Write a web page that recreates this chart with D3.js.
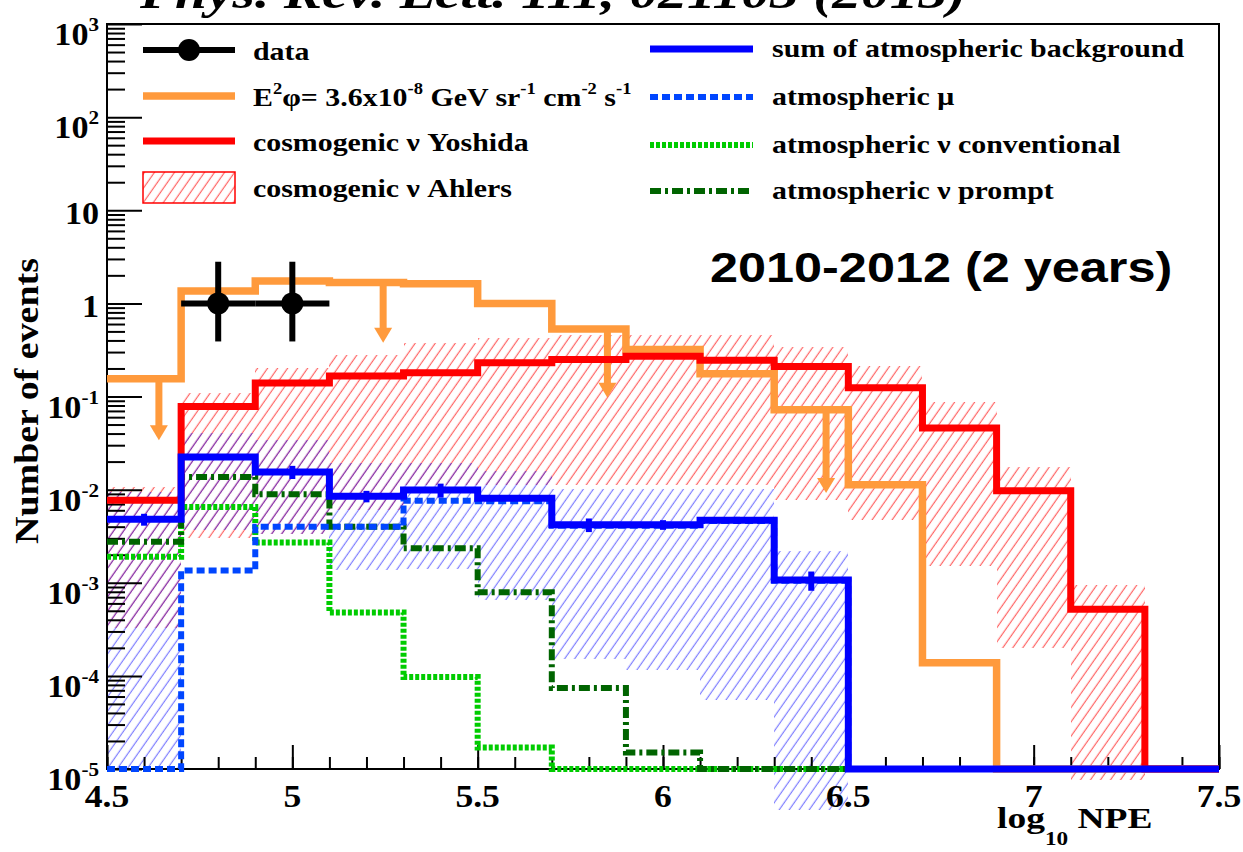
<!DOCTYPE html>
<html>
<head>
<meta charset="utf-8">
<script src="https://cdn.jsdelivr.net/npm/d3@7"></script>
<style>
  html, body { margin: 0; padding: 0; background: #fff; }
  svg { display: block; }
</style>
</head>
<body>
<svg id="chart" width="1243" height="852"></svg>
<script>
// ---- histogram binning (log10 NPE) ----
const binEdges = [4.5, 4.7, 4.9, 5.1, 5.3, 5.5, 5.7, 5.9, 6.1, 6.3, 6.5, 6.7, 6.9, 7.1, 7.3, 7.5];

// E^2 phi = 3.6e-8 GeV sr^-1 cm^-2 s^-1 signal expectation
const fluxE2Phi = [0.155, 1.36, 1.74, 1.68, 1.62, 1.0, 0.53, 0.32, 0.175, 0.072, 0.0113, 1.38e-4, 0, 0, 0];
// upper-limit arrows on the E^2 phi curve
const limitArrowX   = [4.64, 5.245, 5.85, 6.44];
const limitArrowTip = [0.034, 0.377, 0.097, 0.0092];

// cosmogenic nu (Yoshida)
const yoshida = [0.0077, 0.078, 0.14, 0.166, 0.18, 0.23, 0.25, 0.27, 0.245, 0.21, 0.124, 0.046, 0.0097, 5.2e-4, 0];
// cosmogenic nu (Ahlers) band
const ahlersLo = [3.3e-4, 0.003, 0.0033, 0.006, 0.0112, 0.0112, 0.0112, 0.0112, 0.0112, 0.0078, 0.0047, 0.0015, 2.0e-4, 7.6e-6, null];
const ahlersHi = [0.0107, 0.11, 0.2, 0.28, 0.38, 0.43, 0.46, 0.46, 0.46, 0.34, 0.21, 0.087, 0.0175, 9.5e-4, null];

// sum of atmospheric background, its error bars and uncertainty band
const atmSum    = [0.0048, 0.0224, 0.0155, 0.0085, 0.0099, 0.0081, 0.0042, 0.0042, 0.0047, 0.00107, 0, 0, 0, 0, 0];
const atmSumErr = [0.0007, 0.001, 0.0025, 0.0012, 0.0017, 0.0005, 0.0007, 0.0005, 0.0004, 0.00025, 0, 0, 0, 0, 0];
const atmSumLo  = [1e-5, 0.0037, 0.0033, 0.00137, 0.0014, 6.5e-4, 1.5e-4, 1.15e-4, 5.5e-5, 3.6e-6, null, null, null, null, null];
const atmSumHi  = [0.0095, 0.041, 0.034, 0.0194, 0.0194, 0.016, 0.0101, 0.0101, 0.0101, 0.0022, null, null, null, null, null];

// background components
const atmMu       = [0, 0.00135, 0.004, 0.004, 0.0076, 0.0075, 0.0041, 0.0041, 0.0046, 0.00105, 0, 0, 0, 0, 0];
const atmNuConv   = [0.0019, 0.0065, 0.0027, 4.8e-4, 9.7e-5, 1.7e-5, 0, 0, 0, 0, 0, 0, 0, 0, 0];
const atmNuPrompt = [0.00275, 0.0137, 0.0089, 0.004, 0.00235, 7.9e-4, 7.4e-5, 1.5e-5, 0, 0, 0, 0, 0, 0, 0];

// observed events
const dataX    = [4.8, 5.0];
const dataXErr = [0.1, 0.1];
const dataY    = [1, 1];
const dataYLo  = [0.39, 0.39];
const dataYHi  = [2.8, 2.8];

// axes
const xMajorTicks  = [4.5, 5, 5.5, 6, 6.5, 7, 7.5];
const xTickLabels  = ["4.5", "5", "5.5", "6", "6.5", "7", "7.5"];
const yDecades     = [-5, -4, -3, -2, -1, 0, 1, 2, 3];

const journalRef = "Phys. Rev. Lett. 111, 021103 (2013)";
const periodLabel = "2010-2012 (2 years)";
const yTitle = "Number of events";

const legendLeft = [
  { key: "data",    label: "data" },
  { key: "flux",    label: "E^{2}φ= 3.6x10^{-8} GeV sr^{-1} cm^{-2} s^{-1}" },
  { key: "yoshida", label: "cosmogenic ν Yoshida" },
  { key: "ahlers",  label: "cosmogenic ν Ahlers" }
];
const legendRight = [
  { key: "sum",    label: "sum of atmospheric background" },
  { key: "mu",     label: "atmospheric μ" },
  { key: "conv",   label: "atmospheric ν conventional" },
  { key: "prompt", label: "atmospheric ν prompt" }
];

// ---- styling ----
const SERIF = "'Liberation Serif','Times New Roman',serif";
const SANS  = "'Liberation Sans',Arial,sans-serif";
const C = {
  flux: "#ff9a3c", yoshida: "#ff0000", sum: "#0000ff", mu: "#0046ff",
  conv: "#00cc00", prompt: "#006400"
};
const STYLE = {
  flux:    { color: C.flux,    width: 7.5, dash: null },
  yoshida: { color: C.yoshida, width: 7,   dash: null },
  sum:     { color: C.sum,     width: 7,   dash: null },
  mu:      { color: C.mu,      width: 6,   dash: "8,4" },
  conv:    { color: C.conv,    width: 6,   dash: "4,2" },
  prompt:  { color: C.prompt,  width: 6,   dash: "11,4,3,4" }
};

const svg = d3.select("#chart");
const FLOOR = 1e-5;
const x = d3.scaleLinear().domain([4.5, 7.5]).range([107, 1219]);
const y = d3.scaleLog().domain([1e-5, 1e3]).range([769, 24]);
const yv = v => y(Math.max(v, FLOOR));

// ---- hatch patterns ----
const defs = svg.append("defs");
function hatch(id, color, opacity) {
  const p = defs.append("pattern")
    .attr("id", id)
    .attr("patternUnits", "userSpaceOnUse")
    .attr("width", 8.2).attr("height", 8.2)
    .attr("patternTransform", "rotate(35)");
  p.append("line")
    .attr("x1", 4).attr("y1", -1).attr("x2", 4).attr("y2", 9.2)
    .attr("stroke", color).attr("stroke-width", 1.2).attr("stroke-opacity", opacity);
}
hatch("hatchRed", "#ff0000", 0.6);
hatch("hatchBlue", "#0000ff", 0.5);

// ---- rich text helper (^{..} superscript, _{..} subscript) ----
function richText(parent, str, opts) {
  const size = opts.size;
  const t = parent.append("text")
    .attr("font-family", opts.family || SERIF)
    .attr("font-weight", opts.weight || "bold")
    .attr("font-style", opts.style || "normal")
    .attr("font-size", size)
    .attr("text-anchor", opts.anchor || "start")
    .attr("fill", opts.fill || "#000");
  const parts = str.split(/(\^\{[^}]*\}|_\{[^}]*\})/).filter(s => s.length);
  let shift = 0;
  parts.forEach(p => {
    let target = 0, txt = p, small = false;
    if (p.startsWith("^{")) { target = -size * 0.45; txt = p.slice(2, -1); small = true; }
    else if (p.startsWith("_{")) { target = size * 0.55; txt = p.slice(2, -1); small = true; }
    const ts = t.append("tspan").attr("dy", target - shift).text(txt);
    if (small) ts.attr("font-size", size * 0.62);
    shift = target;
  });
  return t;
}
function placed(parent, px, py, sx, rot) {
  return parent.append("g")
    .attr("transform", `translate(${px},${py})` + (rot ? ` rotate(${rot})` : "") + ` scale(${sx},1)`);
}

// ---- journal reference across the top edge ----
richText(placed(svg, 140, 8, 1.25), journalRef, { size: 46, style: "italic" });

// ---- step helpers ----
function stepPath(vals) {
  const pts = vals.map((v, i) => [x(binEdges[i]), yv(v)]);
  pts.push([x(binEdges[vals.length]), pts[pts.length - 1][1]]);
  return d3.line().curve(d3.curveStepAfter)(pts);
}
function drawBand(lo, hi, fill) {
  const bins = lo.map((l, i) => ({ i, lo: l, hi: hi[i] })).filter(d => d.lo != null && d.hi != null);
  svg.append("g").selectAll("rect").data(bins).join("rect")
    .attr("x", d => x(binEdges[d.i]))
    .attr("width", d => x(binEdges[d.i + 1]) - x(binEdges[d.i]))
    .attr("y", d => y(d.hi))
    .attr("height", d => y(d.lo) - y(d.hi))
    .attr("fill", fill)
    .attr("shape-rendering", "crispEdges");
}
function drawStep(vals, st) {
  svg.append("path")
    .attr("d", stepPath(vals))
    .attr("fill", "none")
    .attr("stroke", st.color)
    .attr("stroke-width", st.width)
    .attr("stroke-linejoin", "miter")
    .attr("stroke-dasharray", st.dash);
}

// ---- uncertainty bands ----
drawBand(ahlersLo, ahlersHi, "url(#hatchRed)");
drawBand(atmSumLo, atmSumHi, "url(#hatchBlue)");

// ---- axes and frame ----
const y0 = y(FLOOR);
const minorX = d3.range(45, 76).map(v => v / 10);
function styleAxis(g) {
  g.select(".domain").remove();
  g.selectAll(".tick line").attr("stroke", "#000").attr("stroke-width", 2);
}
svg.append("g").attr("transform", `translate(0,${y0})`)
  .call(d3.axisBottom(x).tickValues(minorX).tickSize(-12).tickFormat(""))
  .call(styleAxis);
svg.append("g").attr("transform", `translate(0,${y0})`)
  .call(d3.axisBottom(x).tickValues(xMajorTicks).tickSize(-24).tickFormat(""))
  .call(styleAxis);

const minorY = [];
yDecades.slice(0, -1).forEach(e => { for (let m = 2; m <= 9; m++) minorY.push(m * Math.pow(10, e)); });
svg.append("g").attr("transform", `translate(${x(4.5)},0)`)
  .call(d3.axisLeft(y).tickValues(minorY).tickSize(-18).tickFormat(""))
  .call(styleAxis);
svg.append("g").attr("transform", `translate(${x(4.5)},0)`)
  .call(d3.axisLeft(y).tickValues(yDecades.map(e => Math.pow(10, e))).tickSize(-35).tickFormat(""))
  .call(styleAxis);

svg.append("rect")
  .attr("x", x(4.5)).attr("y", y(1e3))
  .attr("width", x(7.5) - x(4.5)).attr("height", y0 - y(1e3))
  .attr("fill", "none").attr("stroke", "#000").attr("stroke-width", 2);

// tick labels
xMajorTicks.forEach((v, i) => {
  richText(placed(svg, x(v), 807, 1.15), xTickLabels[i], { size: 31, anchor: "middle" });
});
yDecades.forEach(e => {
  const lab = e === 0 ? "1" : e === 1 ? "10" : `10^{${e}}`;
  const off = (e === 0 || e === 1) ? 14 : 21;
  richText(placed(svg, 99, y(Math.pow(10, e)) + off, 1.1), lab, { size: 31, anchor: "end" });
});

// axis titles
richText(placed(svg, 38, 401, 1.15, -90), yTitle, { size: 33, anchor: "middle" });
richText(placed(svg, 997, 828, 1.25), "log_{10} NPE", { size: 30 });

// ---- histogram lines ----
drawStep(atmNuConv, STYLE.conv);
drawStep(atmNuPrompt, STYLE.prompt);
drawStep(atmMu, STYLE.mu);
drawStep(fluxE2Phi, STYLE.flux);

// upper-limit arrows
const arrows = limitArrowX.map((ax, i) => {
  const b = d3.bisectRight(binEdges, ax) - 1;
  return { x: ax, from: fluxE2Phi[b], tip: limitArrowTip[i] };
});
const gA = svg.append("g").attr("fill", C.flux).attr("stroke", C.flux);
arrows.forEach(a => {
  const px = x(a.x), ty = y(a.tip);
  gA.append("line").attr("x1", px).attr("x2", px)
    .attr("y1", y(a.from)).attr("y2", ty - 12).attr("stroke-width", 7);
  gA.append("path").attr("stroke", "none")
    .attr("d", `M${px - 9},${ty - 15}L${px + 9},${ty - 15}L${px},${ty}Z`);
});

drawStep(yoshida, STYLE.yoshida);
drawStep(atmSum, STYLE.sum);

// error bars of the background sum
const errBins = atmSum.map((v, i) => ({ i, v, e: atmSumErr[i] })).filter(d => d.v > 0 && d.e > 0);
svg.append("g").selectAll("line").data(errBins).join("line")
  .attr("x1", d => x((binEdges[d.i] + binEdges[d.i + 1]) / 2))
  .attr("x2", d => x((binEdges[d.i] + binEdges[d.i + 1]) / 2))
  .attr("y1", d => y(d.v + d.e))
  .attr("y2", d => y(Math.max(d.v - d.e, FLOOR)))
  .attr("stroke", C.sum).attr("stroke-width", 6);

// ---- observed events ----
const gD = svg.append("g");
dataX.forEach((dx, i) => {
  gD.append("line").attr("x1", x(dx - dataXErr[i])).attr("x2", x(dx + dataXErr[i]))
    .attr("y1", y(dataY[i])).attr("y2", y(dataY[i])).attr("stroke", "#000").attr("stroke-width", 6);
  gD.append("line").attr("x1", x(dx)).attr("x2", x(dx))
    .attr("y1", y(dataYHi[i])).attr("y2", y(dataYLo[i])).attr("stroke", "#000").attr("stroke-width", 6);
  gD.append("circle").attr("cx", x(dx)).attr("cy", y(dataY[i])).attr("r", 11).attr("fill", "#000");
});

// ---- period label ----
richText(placed(svg, 710, 282, 1.2), periodLabel, { size: 42, family: SANS });

// ---- legend ----
const legLeftY = [50, 96, 141, 187];
const legRightY = [49, 97, 145, 191];
const gL = svg.append("g");
legendLeft.forEach((d, i) => {
  const ly = legLeftY[i];
  if (d.key === "data") {
    gL.append("line").attr("x1", 143).attr("x2", 235).attr("y1", ly).attr("y2", ly)
      .attr("stroke", "#000").attr("stroke-width", 6);
    gL.append("circle").attr("cx", 189).attr("cy", ly).attr("r", 11).attr("fill", "#000");
  } else if (d.key === "ahlers") {
    gL.append("rect").attr("x", 143).attr("y", ly - 15).attr("width", 92).attr("height", 31)
      .attr("fill", "url(#hatchRed)").attr("stroke", "#ff0000").attr("stroke-width", 1.5);
  } else {
    const st = STYLE[d.key];
    gL.append("line").attr("x1", 143).attr("x2", 235).attr("y1", ly).attr("y2", ly)
      .attr("stroke", st.color).attr("stroke-width", st.width);
  }
  richText(placed(gL, 253, ly + 10, 1.15), d.label, { size: 26 });
});
legendRight.forEach((d, i) => {
  const ly = legRightY[i];
  const st = STYLE[d.key];
  gL.append("line").attr("x1", 650).attr("x2", 753).attr("y1", ly).attr("y2", ly)
    .attr("stroke", st.color).attr("stroke-width", st.width).attr("stroke-dasharray", st.dash);
  richText(placed(gL, 772, ly + 8, 1.15), d.label, { size: 26 });
});
</script>
</body>
</html>
